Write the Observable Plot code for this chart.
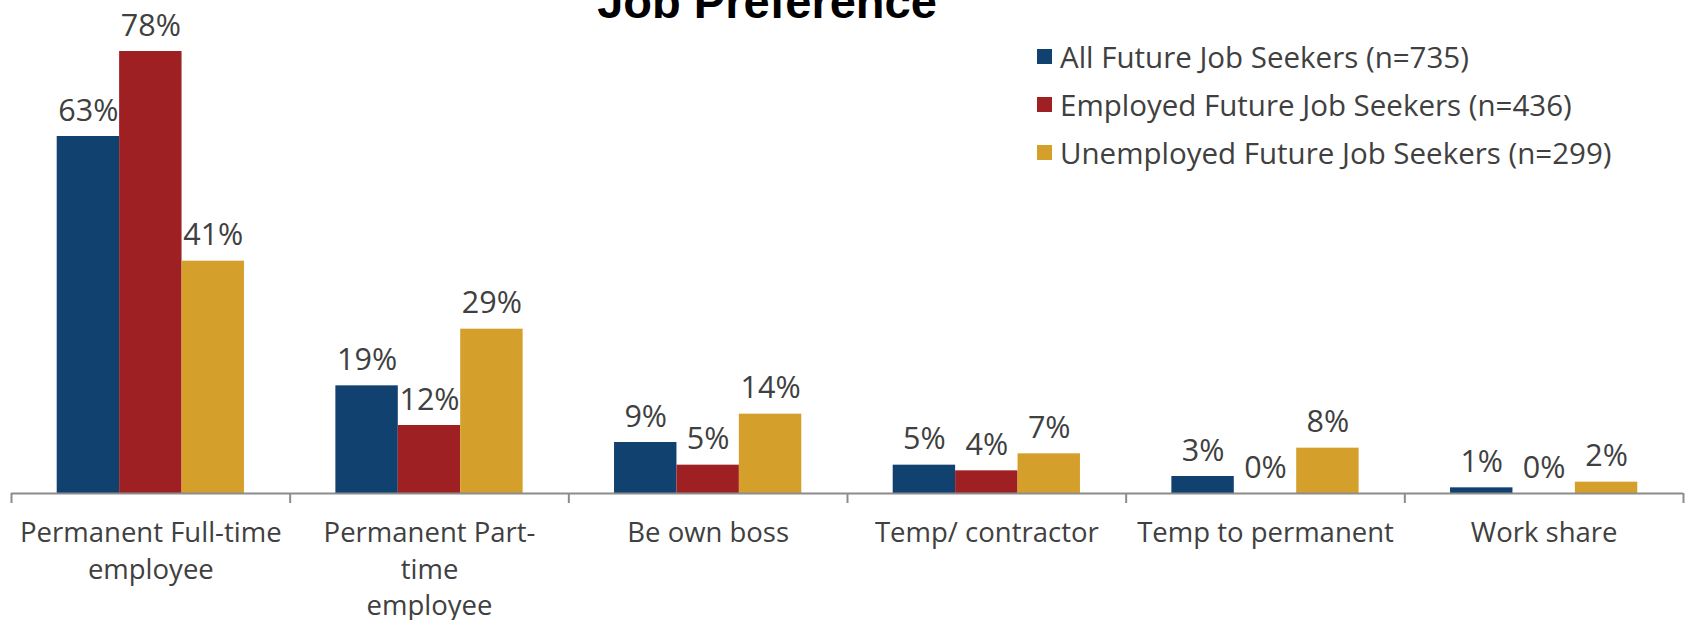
<!DOCTYPE html>
<html><head><meta charset="utf-8">
<script src="https://cdn.jsdelivr.net/npm/d3@7"></script>
<script src="https://cdn.jsdelivr.net/npm/@observablehq/plot@0.6"></script>
<style>
body{margin:0;background:#fff;}
#wrap{position:relative;width:1688px;height:620px;overflow:hidden;background:#fff;}
#title{position:absolute;left:767px;top:-22px;transform:translateX(-50%);font:bold 47px "Liberation Sans",Arial,sans-serif;line-height:47px;white-space:nowrap;color:#000;}
.leg{position:absolute;left:1037px;display:flex;align-items:center;height:40px;font:29.5px "Open Sans",sans-serif;color:#404040;white-space:nowrap;}
.sw{width:15px;height:15px;margin-right:8px;flex:none;}
</style></head><body>
<div id="wrap"><div id="chart"></div><div id="title">Job Preference</div></div>
<script>
const titleText = "Job Preference";
const categories = ["Permanent Full-time employee","Permanent Part-time employee","Be own boss","Temp/ contractor","Temp to permanent","Work share"];
const categoryLabels = ["Permanent Full-time\nemployee","Permanent Part-\ntime\nemployee","Be own boss","Temp/ contractor","Temp to permanent","Work share"];
const seriesNames = ["All Future Job Seekers (n=735)","Employed Future Job Seekers (n=436)","Unemployed Future Job Seekers (n=299)"];
const allSeekers = [63, 19, 9, 5, 3, 1];
const employedSeekers = [78, 12, 5, 4, 0, 0];
const unemployedSeekers = [41, 29, 14, 7, 8, 2];
const colors = ["#11426f", "#9e2022", "#d59f2c"];

const seriesValues = [allSeekers, employedSeekers, unemployedSeekers];
const rows = [];
categories.forEach((c, i) => seriesValues.forEach((vals, s) => rows.push({i, s, cat: c, series: seriesNames[s], value: vals[i]})));
const bw = 0.224;

const chart = Plot.plot({
  width: 1688, height: 620,
  marginLeft: 11, marginRight: 5, marginTop: 51, marginBottom: 127,
  x: {domain: [0, categories.length]},
  y: {domain: [0, 78], axis: null},
  color: {domain: seriesNames, range: colors},
  style: {fontFamily: "'Open Sans', sans-serif", background: "white", overflow: "visible"},
  marks: [
    Plot.rectY(rows, {x1: d => d.i + 0.5 + (d.s - 1.5) * bw, x2: d => d.i + 0.5 + (d.s - 0.5) * bw, y1: 0, y2: "value", fill: "series"}),
    Plot.ruleY([0], {stroke: "#8c8c8c", strokeWidth: 2}),
    Plot.axisX(d3.range(categories.length + 1), {tickSize: 10, tickFormat: () => "", stroke: "#8c8c8c", strokeWidth: 2}),
    Plot.text(rows, {x: d => d.i + 0.5 + (d.s - 1) * bw, y: "value", text: d => d.value + "%", lineAnchor: "bottom", dy: -16, fontSize: 30.5, fill: "#404040"}),
    Plot.text(categoryLabels, {x: (d, i) => i + 0.5, frameAnchor: "bottom", lineAnchor: "top", dy: 22, text: d => d, lineHeight: 1.34, fontSize: 27.5, fill: "#404040"})
  ]
});
document.getElementById("chart").appendChild(chart);
document.getElementById("title").textContent = titleText;

const wrap = document.getElementById("wrap");
const rowCenters = [56, 104, 152];
seriesNames.forEach((name, k) => {
  const div = document.createElement("div");
  div.className = "leg";
  div.style.top = (rowCenters[k] - 20) + "px";
  const sw = document.createElement("div");
  sw.className = "sw";
  sw.style.background = colors[k];
  const t = document.createElement("span");
  t.textContent = name;
  div.appendChild(sw); div.appendChild(t);
  wrap.appendChild(div);
});
</script>
</body></html>
